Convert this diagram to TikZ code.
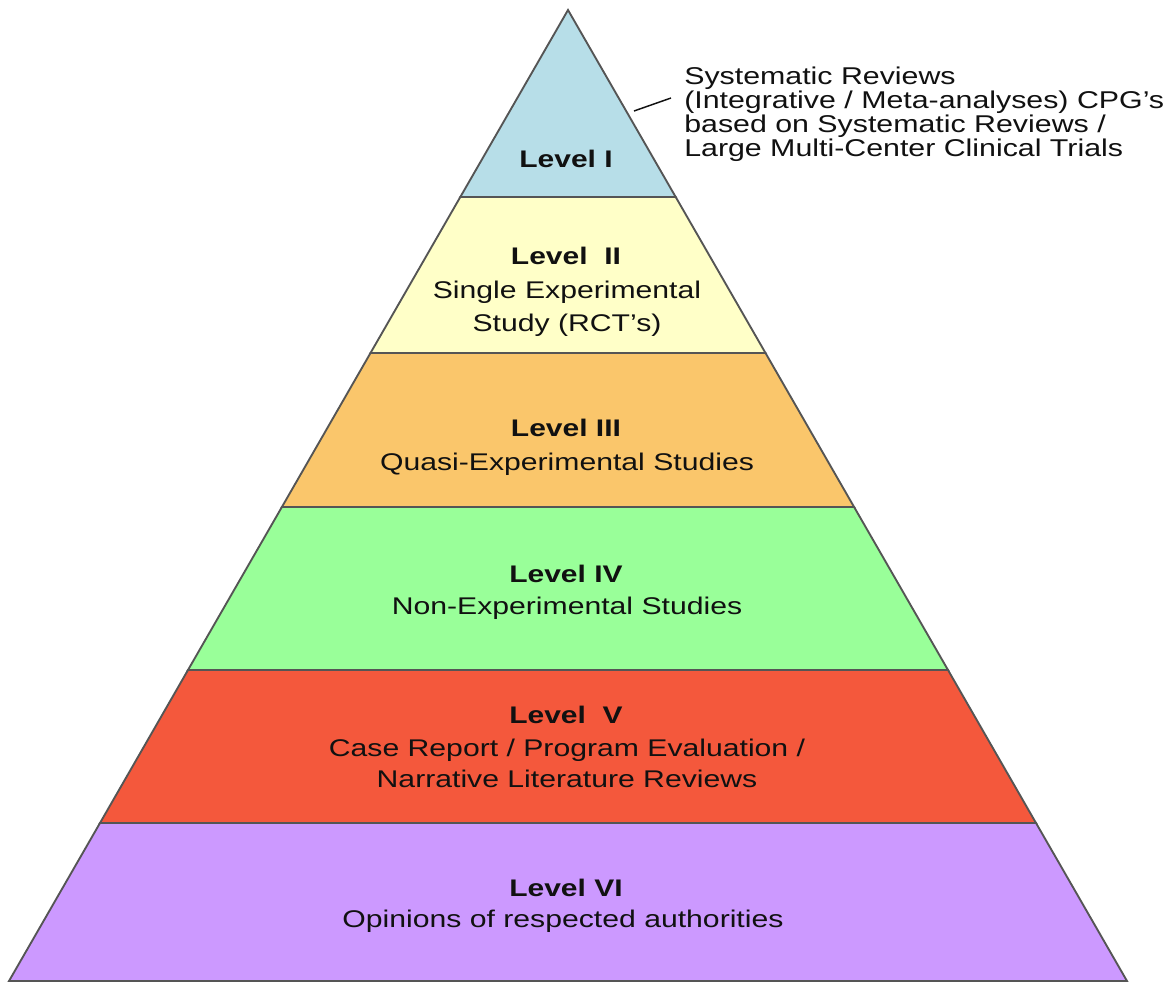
\documentclass[tikz,border=0pt]{standalone}
\usepackage{fontspec}
\newfontfamily\pyr[FakeStretch=1.25]{Liberation Sans}
\definecolor{lvone}{HTML}{B7DEE8}
\definecolor{lvtwo}{HTML}{FFFFC8}
\definecolor{lvthree}{HTML}{FAC66B}
\definecolor{lvfour}{HTML}{99FF99}
\definecolor{lvfive}{HTML}{F4583C}
\definecolor{lvsix}{HTML}{CC99FF}
\definecolor{edge}{HTML}{555555}
\definecolor{ink}{HTML}{111111}
\begin{document}
\begin{tikzpicture}[x=0.75pt,y=-0.75pt,
  band/.style={draw=edge,line width=1.4pt,line join=miter},
  ttl/.style={anchor=base,inner sep=0pt,text=ink,font=\pyr\bfseries\fontsize{18.0}{20}\selectfont},
  txt/.style={anchor=base,inner sep=0pt,text=ink,font=\pyr\fontsize{18.1}{20}\selectfont},
  side/.style={anchor=base west,inner sep=0pt,text=ink,font=\pyr\fontsize{18.2}{20}\selectfont},
  lead/.style={draw=ink,line width=1.1pt}]
\useasboundingbox (0,0) rectangle (1172,982);
% bands
\fill[white] (0,0) rectangle (1172,982);
\draw[band,fill=lvsix]   (100,823) -- (1036,823) -- (1127,981) -- (9,981) -- cycle;
\draw[band,fill=lvfive]  (188,670) -- (948,670) -- (1036,823) -- (100,823) -- cycle;
\draw[band,fill=lvfour]  (281.9,507) -- (854.1,507) -- (948,670) -- (188,670) -- cycle;
\draw[band,fill=lvthree] (370.5,353) -- (765.5,353) -- (854.1,507) -- (281.9,507) -- cycle;
\draw[band,fill=lvtwo]   (460.3,197) -- (675.7,197) -- (765.5,353) -- (370.5,353) -- cycle;
\draw[band,fill=lvone]   (568,10) -- (675.7,197) -- (460.3,197) -- cycle;
% texts
\node[ttl] (t1) at (566,167) {Level I};
\node[ttl] (t2) at (566,264) {Level\ \ II};
\node[txt] (t2a) at (567,298) {Single Experimental};
\node[txt] (t2b) at (567,331) {Study (RCT’s)};
\node[ttl] (t3) at (566,436) {Level III};
\node[txt] (t3a) at (567,470) {Quasi-Experimental Studies};
\node[ttl] (t4) at (566,582) {Level IV};
\node[txt] (t4a) at (567,614) {Non-Experimental Studies};
\node[ttl] (t5) at (566,723) {Level\ \ V};
\node[txt] (t5a) at (567,756) {Case Report / Program Evaluation /};
\node[txt] (t5b) at (567,787) {Narrative Literature Reviews};
\node[ttl] (t6) at (566,896) {Level VI};
\node[txt] (t6a) at (563,927) {Opinions of respected authorities};
% side note
\node[side] (n1) at (684,84) {Systematic Reviews};
\node[side] (n2) at (684,108) {(Integrative / Meta-analyses) CPG’s};
\node[side] (n3) at (684,132) {based on Systematic Reviews /};
\node[side] (n4) at (684,156) {Large Multi-Center Clinical Trials};
\coordinate (la) at (634,111);
\coordinate (lb) at (671,98);
\draw[lead] (la) -- (lb);
\end{tikzpicture}
\end{document}
